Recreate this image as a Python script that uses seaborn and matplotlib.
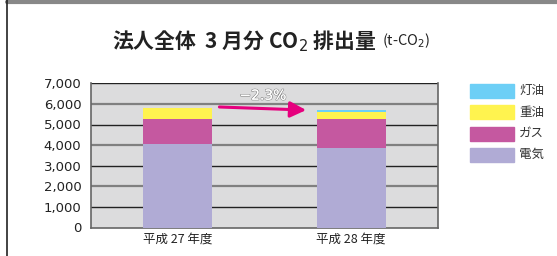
import numpy as np
import pandas as pd
import seaborn as sns
import matplotlib.pyplot as plt
import matplotlib.patheffects as pe
from matplotlib.patches import Rectangle
from matplotlib.lines import Line2D

years = ['平成 27 年度', '平成 28 年度']
denki = [4030, 3880]   # 電気
gas = [1260, 1410]     # ガス
juyu = [500, 340]      # 重油
touyu = [30, 50]       # 灯油
change_label = '−2.3%'

series = ['電気', 'ガス', '重油', '灯油']
colors = {'電気': '#b0abd5', 'ガス': '#c558a0', '重油': '#fff34f', '灯油': '#6dcff6'}

df = pd.DataFrame({'year': years, '電気': denki, 'ガス': gas, '重油': juyu, '灯油': touyu})
cum = df[series].cumsum(axis=1)

sns.set_theme(style='white')
plt.rcParams['font.family'] = ['Noto Sans CJK JP', 'DejaVu Sans']

fig = plt.figure(figsize=(5.57, 2.56), dpi=100)
ax = fig.add_axes([91 / 557, 1 - 227.5 / 256, 347 / 557, 144.2 / 256])
ax.set_facecolor('#dcdcdd')

# stacked: draw cumulative totals from the top series down
for s in reversed(series):
    sns.barplot(x=df['year'], y=cum[s], color=colors[s], width=0.4,
                saturation=1, linewidth=0, ax=ax, zorder=3)

ax.set_ylim(0, 7000)
ax.set_xlim(-0.5, 1.5)
ax.set_yticks(range(0, 7001, 1000))
ax.set_yticklabels([f'{v:,}' for v in range(0, 7001, 1000)], fontsize=9.5,
                   color='#222222', family='DejaVu Sans')
ax.set_xticks([0, 1])
ax.set_xticklabels(years, fontsize=9, color='#222222')
ax.set_xlabel('')
ax.set_ylabel('')
ax.tick_params(axis='y', length=6, width=1, color='#444444', pad=1)
ax.tick_params(axis='x', length=0, pad=4)
ax.set_xticks([0.5], minor=True)
ax.tick_params(axis='x', which='minor', length=3, direction='in', color='#555555')
for v in range(1000, 7001, 1000):
    odd = (v // 1000) % 2 == 1
    ax.axhline(v, color='#222222' if odd else '#808080', lw=1 if odd else 1.6, zorder=1)
for sp in ['left', 'bottom', 'right']:
    ax.spines[sp].set_color('#666666')
    ax.spines[sp].set_linewidth(1.2)
ax.spines['top'].set_visible(False)

# change arrow
ax.annotate('', xy=(0.74, 5700), xytext=(0.24, 5850),
            arrowprops=dict(arrowstyle='-|>,head_length=0.8,head_width=0.4',
                            color='#e6007e', lw=2.2, shrinkA=0, shrinkB=0), zorder=5)
t = ax.text(0.49, 6400, change_label, ha='center', va='center', fontsize=10,
            color='white', family='DejaVu Sans', zorder=6)
t.set_path_effects([pe.withStroke(linewidth=1.0, foreground='#888888'), pe.Normal()])

# title
fig.text(112 / 557, 1 - 41 / 256, '法人全体  3 月分 CO$_2$ 排出量', ha='left', va='center',
         fontsize=15, fontweight='bold', color='#222222')
fig.text(382 / 557, 1 - 41 / 256, '(t-CO$_2$)', ha='left', va='center',
         fontsize=10.5, color='#222222')

# legend
for i, s in enumerate(reversed(series)):
    y = 1 - (90.7 + i * 21.4) / 256
    fig.patches.append(Rectangle((470 / 557, y - 7 / 256), 44 / 557, 14 / 256,
                                 transform=fig.transFigure, color=colors[s]))
    fig.text(519 / 557, y, s, ha='left', va='center', fontsize=9, color='#333333')

# frame
fig.add_artist(Line2D([7 / 557, 1], [1 - 1.5 / 256] * 2, transform=fig.transFigure,
                      color='#888888', lw=3))
fig.add_artist(Line2D([7 / 557] * 2, [0, 1], transform=fig.transFigure,
                      color='#222222', lw=1.2))

fig.savefig('out.png', dpi=100)
